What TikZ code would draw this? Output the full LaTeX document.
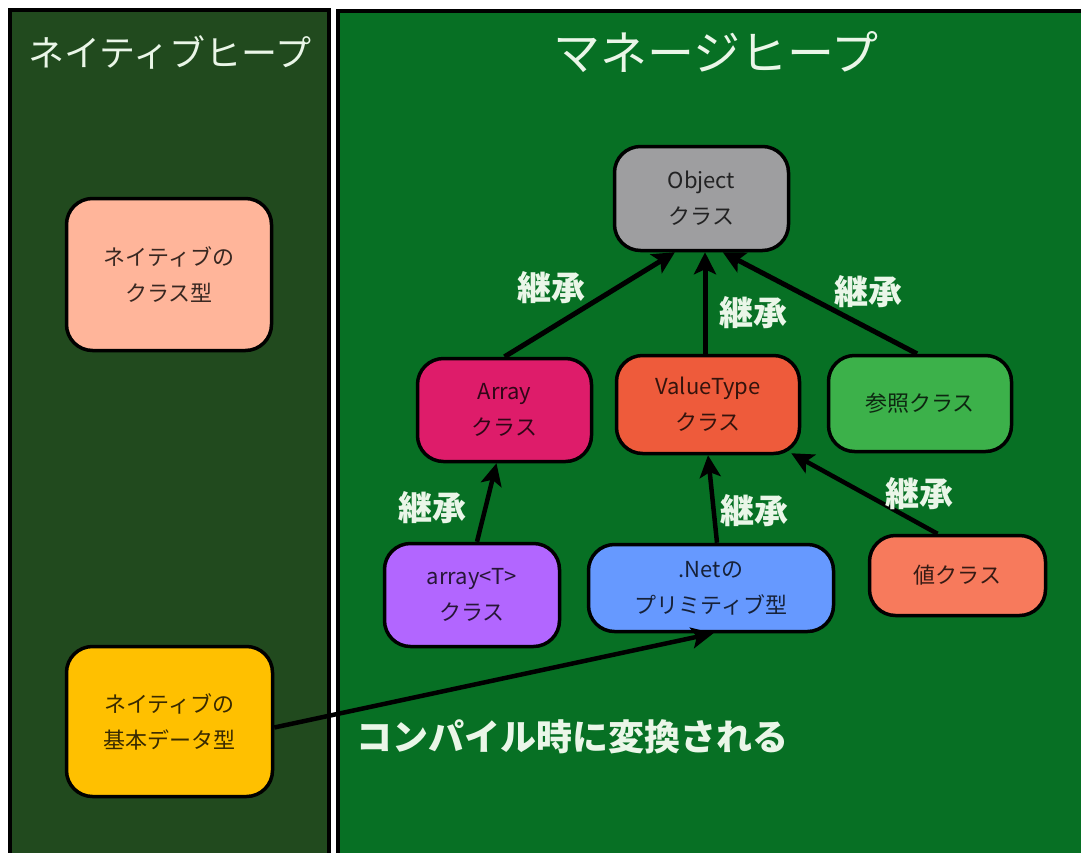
\documentclass[tikz,border=0pt]{standalone}
\usepackage{fontspec}
\setmainfont{Noto Sans CJK JP}
\usetikzlibrary{arrows.meta,calc}
\definecolor{leftpanel}{HTML}{214A1E}
\definecolor{rightpanel}{HTML}{077024}
\definecolor{lighttext}{HTML}{EAF6E8}
\definecolor{cobj}{HTML}{9E9EA0}
\definecolor{carr}{HTML}{DE1C6A}
\definecolor{cvt}{HTML}{EE5B3B}
\definecolor{cref}{HTML}{3CB14A}
\definecolor{carrt}{HTML}{B266FF}
\definecolor{cnet}{HTML}{6699FF}
\definecolor{cval}{HTML}{F77A5C}
\definecolor{cpeach}{HTML}{FFB59A}
\definecolor{cyellow}{HTML}{FFC000}
\tikzset{
  panel/.style={draw=black, line width=4pt},
  box/.style={draw=black, line width=3.5pt, rounded corners=26pt, align=center,
    inner sep=0pt, text=black, text opacity=0.78,
    font=\fontsize{22}{36}\selectfont},
  inh/.style={line width=5pt, -{Stealth[length=22pt,width=22pt,inset=5pt]}},
  inhs/.style={line width=4.5pt, -{Stealth[length=22pt,width=21pt,inset=5pt]}},
  inhlabel/.style={text=lighttext, font=\fontsize{34}{36}\selectfont\bfseries, inner sep=0pt},
  title/.style={text=lighttext, inner sep=0pt}
}
\begin{document}
\begin{tikzpicture}[x=1pt,y=-1pt]
\useasboundingbox (0,0) rectangle (1081,852);
\begin{scope}
\clip (0,0) rectangle (1081,852);
\fill[white] (0,0) rectangle (1081,852);
\draw[panel, fill=leftpanel] (9.5,9.5) rectangle (329,880);
\draw[panel, fill=rightpanel] (338,10.5) rectangle (1100,880);
\end{scope}

\node[title, font=\fontsize{36}{40}\selectfont] (t1) at (170,52) {ネイティブヒープ};
\node[title, font=\fontsize{47}{50}\selectfont] (t2) at (716,52) {マネージヒープ};

% boxes
\node[box, fill=cobj, minimum width=174pt, minimum height=104pt] (obj) at (701.5,198.5) {Object\\クラス};
\node[box, fill=carr, minimum width=174pt, minimum height=103pt] (arr) at (504.5,410) {Array\\クラス};
\node[box, fill=cvt, minimum width=183pt, minimum height=98pt] (vt) at (708,404.5) {ValueType\\クラス};
\node[box, fill=cref, minimum width=183pt, minimum height=96pt] (ref) at (920,403.5) {参照クラス};
\node[box, fill=carrt, minimum width=175pt, minimum height=103pt] (arrt) at (472,595) {array<T>\\クラス};
\node[box, fill=cnet, minimum width=245pt, minimum height=87pt] (net) at (711,588) {.Netの\\プリミティブ型};
\node[box, fill=cval, minimum width=176pt, minimum height=80pt] (val) at (957.5,575.5) {値クラス};
\node[box, fill=cpeach, minimum width=205pt, minimum height=152pt] (nc) at (169,274.5) {ネイティブの\\クラス型};
\node[box, fill=cyellow, minimum width=206pt, minimum height=150pt] (nb) at (169.5,721.5) {ネイティブの\\基本データ型};

% inheritance arrows
\draw[inh] (arr.north) -- ($(obj.south west)!0.35!(obj.south east)$);
\draw[inh] ($(vt.north)+(-3,0)$) -- ($(obj.south)+(3.5,0)$);
\draw[inh] ($(ref.north)+(-3,0)$) -- ($(obj.south west)!0.62!(obj.south east)$);
\draw[inhs] ($(arrt.north)+(5,0)$) -- ($(arr.south)+(-8,0)$);
\draw[inhs] ($(net.north)+(6,0)$) -- (vt.south);
\draw[inhs] ($(val.north)+(-20,0)$) -- ($(vt.south east)+(-10,-2)$);
\draw[inhs] ($(nb.east)+(0,6)$) -- ($(net.south west)!0.51!(net.south east)$);

% labels
\node[inhlabel] (l1) at (551,288) {継承};
\node[inhlabel] (l2) at (753,313) {継承};
\node[inhlabel] (l3) at (868,292) {継承};
\node[inhlabel] (l4) at (432,508) {継承};
\node[inhlabel] (l5) at (754,511) {継承};
\node[inhlabel] (l6) at (919,494) {継承};
\node[inhlabel, anchor=west, font=\fontsize{36}{40}\selectfont\bfseries] (l7) at (356,737) {コンパイル時に変換される};
\end{tikzpicture}
\end{document}
